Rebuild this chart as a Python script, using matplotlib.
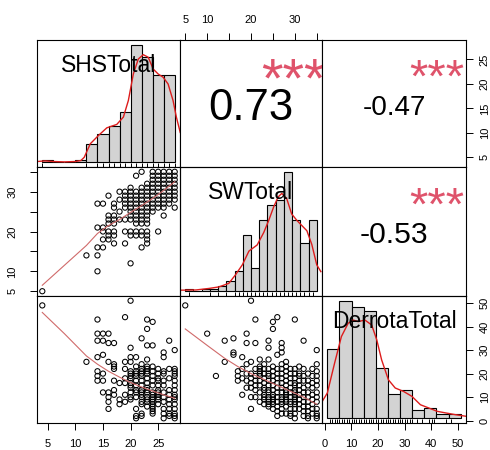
import numpy as np
import matplotlib
matplotlib.use("Agg")
import matplotlib.pyplot as plt
from matplotlib.textpath import TextPath
from matplotlib.font_manager import FontProperties
from matplotlib.transforms import offset_copy

plt.rcParams['font.family'] = ['Liberation Sans', 'DejaVu Sans']

# ---------------- data ----------------
var_names = ["SHSTotal", "SWTotal", "DerrotaTotal"]

cor_pairs = [(0, 1), (0, 2), (1, 2)]
cor_values = [0.73, -0.47, -0.53]
cor_labels = ["0.73", "-0.47", "-0.53"]
cor_stars = ["***", "***", "***"]

# histograms (breaks + counts)
shs_breaks = [4, 6, 8, 10, 12, 14, 16, 18, 20, 22, 24, 26, 28]
shs_counts = [1, 0, 0, 1, 9, 14, 18, 25, 59, 53, 44, 44]
sw_breaks = [4, 6, 8, 10, 12, 14, 16, 18, 20, 22, 24, 26, 28, 30, 32, 34, 36]
sw_counts = [1, 0, 1, 1, 2, 4, 8, 22, 9, 28, 34, 36, 47, 28, 19, 28]
der_breaks = [0, 5, 10, 15, 20, 25, 30, 35, 40, 45, 50, 55]
der_counts = [35, 59, 56, 54, 25, 12, 14, 4, 5, 2, 2]

# density curves (in count units of each histogram)
shs_kde_x = [3.1, 4.5, 6, 8, 10, 11, 11.6, 12.7, 14.2, 15.7, 17.5, 18.7, 19.6, 20.5,
             21.4, 22.3, 23.2, 24.1, 25.0, 25.9, 26.8, 27.7, 28.3, 29.0]
shs_kde_y = [0.4, 0.7, 0.4, 0.2, 0.4, 0.9, 2.5, 9.3, 13.5, 17.3, 19, 22.7, 31, 44.3,
             51.8, 54, 52.7, 46.8, 44.3, 42.7, 39.3, 31, 22.7, 15]
sw_kde_x = [2.6, 6.6, 9.8, 12.2, 14.6, 16.2, 17.9, 19.5, 21.5, 23.1, 24.3, 25.5, 26.6,
            27.5, 28.7, 29.9, 31.2, 32.4, 33.6, 34.8, 36.0, 37.0]
sw_kde_y = [0.4, 0.5, 1.1, 1.7, 3.1, 6.4, 10.4, 15.8, 18.2, 23.1, 27.8, 33.1, 37.1,
            38.5, 36.4, 30.4, 27.8, 25.8, 23.8, 18.4, 10.4, 7.7]
der_kde_x = [-2.5, 0, 3, 5.8, 8.6, 10.7, 12.7, 15.5, 18.3, 20.4, 22.4, 25.2, 28, 31.4,
             34.9, 38.4, 41.8, 45.3, 48.8, 52.9, 57.3]
der_kde_y = [7.7, 12.7, 27.7, 41, 47.7, 49.3, 48.5, 49.3, 46.8, 39.3, 29.3, 19.3, 15.2,
             13.5, 11, 6.8, 5.2, 3.5, 2.7, 1.8, 1.0]

# scatter SHS (x) vs SW (y): SW value -> SHS values
sw_rows_shs = {
    5: [4], 10: [14], 12: [20], 14: [12, 14], 16: [14, 15, 22], 17: [17, 19, 23],
    18: [15, 16, 23], 19: [16, 17, 20, 21, 22, 23],
    20: [15, 16, 17, 19, 20, 21, 22, 23, 25], 21: [14, 15],
    22: [16, 17, 21, 22, 23], 23: [16, 17, 18, 19, 20, 21, 22, 23],
    24: [16, 17, 20, 21, 22, 23, 26], 25: [18, 20, 21, 22, 23, 24],
    26: [17, 19, 20, 21, 22, 23, 24, 25, 26, 28],
    27: [14, 15, 17, 19, 20, 21, 22, 23, 24, 25, 26, 27],
    28: [18, 19, 20, 21, 22, 23, 24, 25, 26, 27, 28],
    29: [16, 19, 20, 21, 22, 23, 24, 25, 26, 27, 28],
    30: [18, 19, 20, 21, 22, 23, 24, 25, 26, 27, 28],
    31: [20, 22, 23, 24, 25, 26, 27, 28], 32: [23, 24, 25, 26, 27, 28],
    33: [24, 25, 26, 27, 28], 34: [21, 24, 25, 26, 27, 28], 35: [22, 24, 25, 26, 27, 28],
}
# scatter SHS (x) vs Derrota (y): SHS value -> Derrota values
shs_cols_der = {
    4: [49], 12: [25], 14: [43, 37, 34, 27, 21, 19, 17], 15: [37, 34, 28, 20, 17, 12],
    16: [37, 33, 25, 12, 10, 8, 5], 17: [33, 24, 23, 22, 17, 13, 11], 18: [16, 9, 7],
    19: [44, 25, 22, 18, 16, 11, 8],
    20: [51, 31, 27, 25, 21, 20, 19, 18, 16, 15, 14, 12, 10, 9],
    21: [27, 23, 21, 20, 19, 17, 15, 13, 12, 10, 5, 2, 1],
    22: [35, 24, 22, 21, 20, 19, 17, 15, 13, 12, 11, 10, 8, 7, 3, 2],
    23: [43, 39, 32, 26, 23, 22, 21, 20, 18, 16, 14, 13, 12, 10, 9, 8, 6],
    24: [42, 32, 23, 21, 19, 17, 15, 12, 11, 10, 9, 8, 7, 6, 5, 4, 3],
    25: [22, 20, 18, 17, 15, 13, 12, 11, 10, 9, 7],
    26: [29, 27, 21, 20, 17, 15, 12, 10, 8, 5, 3, 1],
    27: [34, 22, 18, 13, 11, 9, 7, 5, 3, 2],
    28: [30, 22, 21, 20, 19, 17, 15, 13, 11, 10, 9, 7, 5, 3, 2, 1],
}
# scatter SW (x) vs Derrota (y): SW value -> Derrota values
sw_cols_der = {
    5: [49], 10: [37], 12: [19], 14: [34, 25], 16: [35, 29, 28], 17: [21, 19, 17],
    18: [27, 22, 18, 11], 19: [37, 33, 24, 20, 17, 14],
    20: [51, 25, 20, 18, 16, 14, 10, 5], 21: [43, 33, 22, 19, 17, 15, 13, 10],
    22: [26, 23, 22, 21, 20, 19, 17, 15, 12, 8],
    23: [24, 22, 20, 18, 16, 14, 13, 11, 10, 9, 7],
    24: [34, 31, 26, 22, 20, 19, 17, 15, 13, 12, 10, 9, 8, 7, 6],
    25: [42, 39, 23, 21, 19, 17, 15, 13, 11, 10, 9, 8, 7, 5],
    26: [44, 28, 22, 20, 18, 16, 14, 12, 10, 8, 6, 4, 2],
    27: [33, 31, 29, 24, 22, 20, 18, 16, 14, 12, 10, 9, 8, 7, 5, 3],
    28: [25, 23, 21, 19, 17, 15, 13, 12, 11, 10, 9, 8, 6, 3],
    29: [22, 20, 18, 16, 14, 12, 10, 8, 7, 5, 3, 2],
    30: [43, 22, 20, 18, 16, 15, 13, 12, 11, 10, 9, 8, 7, 5, 3, 1],
    31: [23, 20, 19, 17, 15, 13, 11, 9, 7, 5],
    32: [34, 22, 19, 17, 14, 12, 10, 8, 6, 4, 2],
    33: [20, 17, 15, 12, 10, 8, 6, 4, 2, 1],
    34: [22, 19, 16, 14, 11, 9, 7, 5, 3],
    35: [30, 24, 21, 19, 17, 15, 12, 10, 8, 5, 3, 2, 1],
}

# smoothed (lowess) lines
smooth_shs_sw_x = [4, 8, 12, 14, 16, 18, 20, 22, 24, 26, 28]
smooth_shs_sw_y = [6.5, 11.5, 16.5, 19.5, 21.5, 23, 24.8, 26.5, 28.3, 30.3, 32.5]
smooth_shs_der_x = [4, 8, 12, 14, 16, 18, 20, 22, 24, 26, 28]
smooth_shs_der_y = [46, 37, 27.5, 24, 21, 18.5, 16.2, 14.3, 12.6, 11, 9.5]
smooth_sw_der_x = [5, 10, 14, 17, 20, 23, 26, 29, 32, 35]
smooth_sw_der_y = [39, 32, 26.5, 23, 20, 17.5, 15, 12.5, 10, 7]

# axis ticks
shs_ticks = [5, 10, 15, 20, 25]
sw_ticks = [5, 10, 15, 20, 25, 30, 35]
sw_tick_labels = ["5", "10", "", "20", "", "30", ""]
der_ticks = [0, 10, 20, 30, 40, 50]


# ---------------- helpers ----------------
def expand(d):
    ks, vs = [], []
    for k, vals in d.items():
        for v in vals:
            ks.append(k)
            vs.append(v)
    return np.array(ks, float), np.array(vs, float)


p21_sw, p21_shs = expand(sw_rows_shs)
p31_shs, p31_der = expand(shs_cols_der)
p32_sw, p32_der = expand(sw_cols_der)

shs_all = np.concatenate([p21_shs, p31_shs])
sw_all = np.concatenate([p21_sw, p32_sw])
der_all = np.concatenate([p31_der, p32_der])


def padded(lo, hi, f=0.04):
    d = hi - lo
    return (lo - f * d, hi + f * d)


lims = [padded(shs_all.min(), shs_all.max()),
        padded(sw_all.min(), sw_all.max()),
        padded(der_all.min(), der_all.max())]

hists = [(shs_breaks, shs_counts, shs_kde_x, shs_kde_y, shs_all),
         (sw_breaks, sw_counts, sw_kde_x, sw_kde_y, sw_all),
         (der_breaks, der_counts, der_kde_x, der_kde_y, der_all)]

scatters = {(1, 0): (p21_shs, p21_sw, smooth_shs_sw_x, smooth_shs_sw_y),
            (2, 0): (p31_shs, p31_der, smooth_shs_der_x, smooth_shs_der_y),
            (2, 1): (p32_sw, p32_der, smooth_sw_der_x, smooth_sw_der_y)}

DPI = 100
fig = plt.figure(figsize=(4.9, 4.5), dpi=DPI)
fig.patch.set_facecolor('white')
XE = [37, 180, 322, 466]
YE = [40, 167, 296, 423]
FW, FH = 490.0, 450.0


def rect(i, j):
    return [XE[j] / FW, 1 - YE[i + 1] / FH, (XE[j + 1] - XE[j]) / FW, (YE[i + 1] - YE[i]) / FH]


FP = FontProperties(family='Liberation Sans')


def ink_mid(s, size):
    bb = TextPath((0, 0), s, size=size, prop=FP).get_extents()
    return (bb.y0 + bb.y1) / 2.0


def centered_text(ax, x, y, s, size, dy_px=0.0, **kw):
    off = ink_mid(s, size) + dy_px * 72.0 / DPI
    tr = offset_copy(ax.transAxes, fig=fig, x=0, y=-off, units='points')
    ax.text(x, y, s, transform=tr, ha='center', va='baseline', fontsize=size, **kw)


EMW = {'0': .556, '1': .556, '2': .556, '3': .556, '4': .556, '5': .556, '6': .556,
       '7': .556, '8': .556, '9': .556, '.': .278, '-': .333}


def em_width(s):
    return sum(EMW.get(c, .556) for c in s)


K_SIZE = 77.4
tick_kw = dict(length=5, width=0.7, direction='out', labelsize=8, colors='black')

axes = {}
for i in range(3):
    for j in range(3):
        if i == j:
            breaks, counts, kx, ky, vals = hists[i]
            hx = fig.add_axes(rect(i, j), zorder=0)
            widths = np.diff(breaks)
            hx.bar(breaks[:-1], counts, width=widths, align='edge', color='#D3D3D3',
                   edgecolor='black', linewidth=0.8)
            hx.plot(kx, ky, color='#DD1C1C', lw=1.0)
            hx.set_xlim(padded(breaks[0], breaks[-1]))
            ylo, yhi = padded(0, max(counts))
            hx.set_ylim(ylo, yhi)
            rug = np.unique(vals)
            hx.vlines(rug, ylo, ylo + 0.03 * (yhi - ylo), color='black', lw=0.7)
            hx.axis('off')
        ax = fig.add_axes(rect(i, j), zorder=1)
        ax.set_xlim(lims[j])
        ax.set_ylim(lims[i])
        ax.set_xticks([])
        ax.set_yticks([])
        if i == j:
            ax.patch.set_alpha(0)
        for sp in ax.spines.values():
            sp.set_linewidth(0.8)
        axes[(i, j)] = ax

        if i == j:
            centered_text(ax, 0.5, 0.815, var_names[i], 16.5, color='black')
        elif i > j:
            xs, ys, lx, ly = scatters[(i, j)]
            ax.scatter(xs, ys, s=14, facecolors='none', edgecolors='black',
                       linewidths=0.75, zorder=2)
            ax.plot(lx, ly, color='#D06A6A', lw=0.8, zorder=3)

for k, (i, j) in enumerate(cor_pairs):
    ax = axes[(i, j)]
    txt = cor_labels[k]
    base = K_SIZE / em_width(txt)
    size = base * (abs(cor_values[k]) + 0.3) / 1.3
    centered_text(ax, 0.5, 0.5, txt, size, dy_px=1.5, color='black')
    centered_text(ax, 0.8, 0.8, cor_stars[k], base, dy_px=2.5, color='#DF536B')

# bottom axes
ax = axes[(2, 0)]
ax.set_xticks(shs_ticks)
ax.set_xticklabels([str(t) for t in shs_ticks])
ax.tick_params(axis='x', pad=6.4, **tick_kw)
ax = axes[(2, 2)]
ax.set_xticks(der_ticks)
ax.set_xticklabels([str(t) for t in der_ticks])
ax.tick_params(axis='x', pad=6.4, **tick_kw)
# top axis
ax = axes[(0, 1)]
ax.xaxis.tick_top()
ax.set_xticks(sw_ticks)
ax.set_xticklabels(sw_tick_labels)
ax.tick_params(axis='x', pad=5.8, **tick_kw)
# left axis
ax = axes[(1, 0)]
ax.set_yticks(sw_ticks)
ax.set_yticklabels(sw_tick_labels)
ax.tick_params(axis='y', pad=9.0, labelrotation=90, **tick_kw)
plt.setp(ax.get_yticklabels(), va='center', ha='right')
# right axes
ax = axes[(0, 2)]
ax.yaxis.tick_right()
ax.set_yticks(shs_ticks)
ax.set_yticklabels([str(t) for t in shs_ticks])
ax.tick_params(axis='y', pad=5.0, labelrotation=90, **tick_kw)
plt.setp(ax.get_yticklabels(), va='center', ha='left')
ax = axes[(2, 2)]
ax.yaxis.tick_right()
ax.set_yticks(der_ticks)
ax.set_yticklabels([str(t) for t in der_ticks])
ax.tick_params(axis='y', pad=5.0, labelrotation=90, **tick_kw)
plt.setp(ax.get_yticklabels(), va='center', ha='left')

fig.savefig("out.png", dpi=DPI, facecolor='white')
